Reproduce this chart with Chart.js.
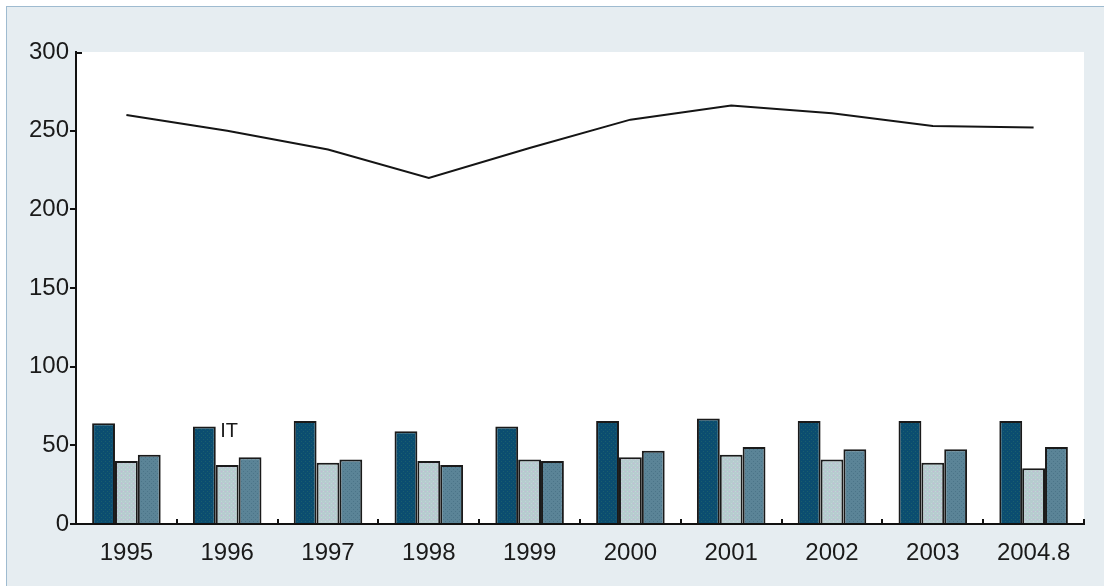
<!DOCTYPE html>
<html>
<head>
<meta charset="utf-8">
<script src="https://cdn.jsdelivr.net/npm/chart.js@4.4.1/dist/chart.umd.min.js"></script>
<style>
  html, body { margin: 0; padding: 0; background: #fff; }
  #frame {
    position: absolute; left: 6px; top: 6px; width: 1097px; height: 580px;
    background: #e6edf1; border-left: 1px solid #9fbbd0; border-top: 1px solid #9fbbd0;
    border-right: 1px solid #9fbbd0;
  }
  #chart { display: block; }
</style>
</head>
<body>
<div id="frame"><canvas id="chart" width="1097" height="580"></canvas></div>
<script>
// ── Data ────────────────────────────────────────────────────────────
var years = ['1995', '1996', '1997', '1998', '1999', '2000', '2001', '2002', '2003', '2004.8'];
var seriesDark  = [64, 62, 65.5, 59, 62, 65.5, 67, 65.5, 65.5, 65.5];
var seriesLight = [40, 37.5, 39, 40, 41, 42.5, 44, 41, 39, 35.5];
var seriesMid   = [44, 42.5, 41, 37.5, 40, 46.5, 49, 47.5, 47.5, 49];
var lineValues  = [260, 250, 238, 220, 239, 257, 266, 261, 253, 252];
var noteText = 'IT';
var noteIndex = 1;
var noteValue = 58.5;

var fontFamily = '"Liberation Sans Narrow", "Arial Narrow", "Liberation Sans", Arial, sans-serif';

// small dithered fills, like the original print
function makePattern(a, b, dot) {
  var c = document.createElement('canvas');
  c.width = 4; c.height = 4;
  var g = c.getContext('2d');
  g.fillStyle = a; g.fillRect(0, 0, 4, 4);
  g.fillStyle = b; g.fillRect(0, 0, 1, 1); g.fillRect(2, 2, 1, 1);
  if (dot) { g.fillStyle = dot; g.fillRect(2, 0, 1, 1); }
  return document.getElementById('chart').getContext('2d').createPattern(c, 'repeat');
}

var fillDark = makePattern('#0b4d70', '#1b5f6c');
var fillLight = makePattern('#b6cccf', '#c2d4d6', '#c5b6d6');
var fillMid = makePattern('#5b8497', '#4b7488');

var barBorder = { top: 2, left: 2, right: 2, bottom: 0 };

// white plot area, axis ticks and the "IT" note
var decor = {
  id: 'decor',
  beforeDraw: function(chart) {
    var a = chart.chartArea, ctx = chart.ctx;
    ctx.save();
    ctx.fillStyle = '#ffffff';
    ctx.fillRect(a.left, a.top, a.right - a.left, a.bottom - a.top);
    ctx.restore();
  },
  afterDraw: function(chart) {
    var ctx = chart.ctx, a = chart.chartArea;
    var xs = chart.scales.x, ys = chart.scales.y;
    ctx.save();
    ctx.strokeStyle = '#111';
    ctx.lineWidth = 2;
    var step = (a.right - a.left) / years.length;
    for (var i = 1; i <= years.length; i++) {
      var x = Math.round(a.left + step * i);
      ctx.beginPath();
      ctx.moveTo(x, a.bottom);
      ctx.lineTo(x, a.bottom - 5);
      ctx.stroke();
    }
    // top tick points inward
    ctx.beginPath();
    ctx.moveTo(a.left, a.top + 1);
    ctx.lineTo(a.left + 6, a.top + 1);
    ctx.stroke();
    ctx.fillStyle = '#1a1a1a';
    ctx.font = '20px ' + fontFamily;
    ctx.textAlign = 'center';
    ctx.textBaseline = 'middle';
    ctx.fillText(noteText, xs.getPixelForValue(noteIndex) + 2, ys.getPixelForValue(noteValue));
    ctx.restore();
  }
};

new Chart(document.getElementById('chart'), {
  type: 'bar',
  data: {
    labels: years,
    datasets: [
      { type: 'line', data: lineValues, borderColor: '#151515', borderWidth: 2,
        pointRadius: 0, tension: 0, fill: false, order: 0 },
      { data: seriesDark, backgroundColor: fillDark, borderColor: '#1a1a1a', borderWidth: barBorder, borderSkipped: false, inflateAmount: 0, order: 1 },
      { data: seriesLight, backgroundColor: fillLight, borderColor: '#1a1a1a', borderWidth: barBorder, borderSkipped: false, inflateAmount: 0, order: 1 },
      { data: seriesMid, backgroundColor: fillMid, borderColor: '#1a1a1a', borderWidth: barBorder, borderSkipped: false, inflateAmount: 0, order: 1 }
    ]
  },
  options: {
    responsive: false,
    animation: false,
    layout: { padding: { top: 45, right: 20, bottom: 0, left: 0 } },
    datasets: { bar: { categoryPercentage: 0.68, barPercentage: 1.0 } },
    plugins: { legend: { display: false }, tooltip: { enabled: false } },
    scales: {
      x: {
        offset: true,
        grid: { display: false, drawOnChartArea: false, drawTicks: false },
        border: { display: true, color: '#111', width: 2 },
        ticks: { color: '#1a1a1a', padding: 15, font: { size: 24, family: fontFamily } },
        afterFit: function(s) { s.height = 63; }
      },
      y: {
        min: 0, max: 300,
        ticks: { stepSize: 50, color: '#1a1a1a', padding: 1, font: { size: 24, family: fontFamily } },
        grid: {
          drawOnChartArea: false, tickLength: 6, lineWidth: 2,
          color: function(c) { return c.tick && c.tick.value === 300 ? 'rgba(0,0,0,0)' : '#111'; }
        },
        border: { display: true, color: '#111', width: 2 },
        afterFit: function(s) { s.width = 69; }
      }
    }
  },
  plugins: [decor]
});
</script>
</body>
</html>
